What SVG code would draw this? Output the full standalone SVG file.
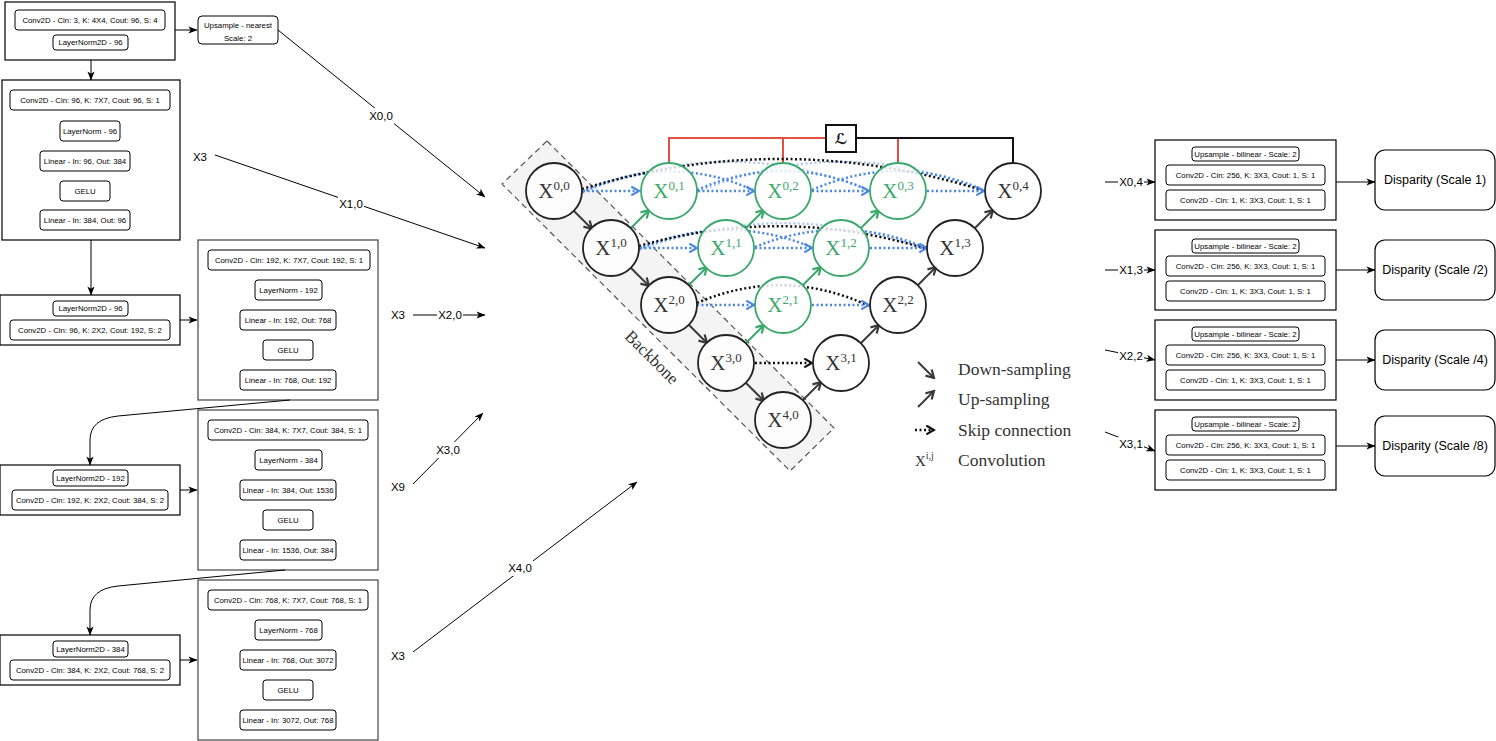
<svg xmlns="http://www.w3.org/2000/svg" width="1496" height="741" viewBox="0 0 1496 741">
<defs>
<style>
.blk{fill:#fff;stroke:#000;stroke-width:1.2}
.blk2{fill:#fff;stroke:#444;stroke-width:1.2}
.op{fill:#fff;stroke:#000;stroke-width:1}
.t{font-family:"Liberation Sans",Arial,Helvetica,sans-serif;font-size:7.8px;text-anchor:middle;dominant-baseline:central;fill:#000}
.lb{font-family:"Liberation Sans",Arial,Helvetica,sans-serif;font-size:11.5px;text-anchor:middle;dominant-baseline:central;fill:#000}
.disp{font-size:12.5px}
.ln{fill:none;stroke:#000;stroke-width:1}
.sf{font-family:"Liberation Serif","DejaVu Serif",serif}
.nl{font-size:21px;text-anchor:middle}
.sup{font-size:13px}
.nb{fill:#fff;fill-opacity:.82;stroke:#222;stroke-width:1.8}
.ng{fill:#fff;fill-opacity:.82;stroke:#3aa86a;stroke-width:1.8}
.xb{fill:#333}
.xg{fill:#3aa86a}
.dn{fill:none;stroke:#3a3a3a;stroke-width:2}
.up{fill:none;stroke:#3aa86a;stroke-width:2}
.skb{fill:none;stroke:#111;stroke-width:2.5;stroke-dasharray:2 2.5}
.skl{fill:none;stroke:#4a86e8;stroke-width:2.5;stroke-dasharray:2 2.5}
.skf{fill:none;stroke:#a9c5f3;stroke-width:2.2;stroke-dasharray:2 2.5}
.red{fill:none;stroke:#e2503f;stroke-width:2}
.leg{font-size:17.5px;fill:#333}
</style>
<marker id="a" viewBox="0 0 10 10" refX="9.5" refY="5" markerWidth="9" markerHeight="9" markerUnits="userSpaceOnUse" orient="auto"><path d="M0,1 L10,5 L0,9 L2.5,5 z" fill="#000"/></marker>
<marker id="cd" viewBox="0 0 10 10" refX="8.5" refY="5" markerWidth="11" markerHeight="11" markerUnits="userSpaceOnUse" orient="auto"><path d="M1.5,1 L8.5,5 L1.5,9" fill="none" stroke="#3a3a3a" stroke-width="2"/></marker>
<marker id="cg" viewBox="0 0 10 10" refX="8.5" refY="5" markerWidth="11" markerHeight="11" markerUnits="userSpaceOnUse" orient="auto"><path d="M1.5,1 L8.5,5 L1.5,9" fill="none" stroke="#3aa86a" stroke-width="2"/></marker>
<marker id="cb" viewBox="0 0 10 10" refX="8.5" refY="5" markerWidth="11" markerHeight="11" markerUnits="userSpaceOnUse" orient="auto"><path d="M1.5,1 L8.5,5 L1.5,9" fill="none" stroke="#4a86e8" stroke-width="2"/></marker>
<marker id="ck" viewBox="0 0 10 10" refX="8.5" refY="5" markerWidth="11" markerHeight="11" markerUnits="userSpaceOnUse" orient="auto"><path d="M1.5,1 L8.5,5 L1.5,9" fill="none" stroke="#111" stroke-width="2"/></marker>
</defs>
<rect width="1496" height="741" fill="#fff"/>

<!-- ConvNeXt-style encoder blocks -->
<g id="stem">
<rect class="blk" x="5" y="2" width="170" height="58"/>
<rect class="op" x="15" y="10" width="150" height="20" rx="3"/><text class="t" x="90" y="20">Conv2D - Cin: 3, K: 4X4, Cout: 96, S: 4</text>
<rect class="op" x="53" y="35" width="75" height="15" rx="3"/><text class="t" x="90.5" y="42.5">LayerNorm2D - 96</text>
</g>
<g id="upsample">
<rect class="op" x="198" y="16" width="80" height="28" rx="4"/>
<text class="t" x="238" y="25">Upsample - nearest</text>
<text class="t" x="238" y="38">Scale: 2</text>
</g>
<g id="stage1">
<rect class="blk" x="2" y="80" width="178" height="160"/>
<rect class="op" x="10" y="90" width="160" height="20" rx="3"/><text class="t" x="90" y="100">Conv2D - Cin: 96, K: 7X7, Cout: 96, S: 1</text>
<rect class="op" x="60" y="121" width="60" height="20" rx="3"/><text class="t" x="90" y="131">LayerNorm - 96</text>
<rect class="op" x="40" y="151" width="90" height="20" rx="3"/><text class="t" x="85" y="161">Linear - In: 96, Out: 384</text>
<rect class="op" x="60" y="181" width="50" height="20" rx="3"/><text class="t" x="85" y="191">GELU</text>
<rect class="op" x="40" y="210" width="90" height="20" rx="3"/><text class="t" x="85" y="220">Linear - In: 384, Out: 96</text>
</g>
<g id="down1">
<rect class="blk" x="0" y="295" width="180" height="50"/>
<rect class="op" x="53" y="301" width="75" height="15" rx="3"/><text class="t" x="90.5" y="308.5">LayerNorm2D - 96</text>
<rect class="op" x="10" y="320" width="160" height="20" rx="3"/><text class="t" x="90" y="330">Conv2D - Cin: 96, K: 2X2, Cout: 192, S: 2</text>
</g>
<g id="stage2">
<rect class="blk2" x="198" y="240" width="180" height="160"/>
<rect class="op" x="208" y="250" width="162" height="20" rx="3"/><text class="t" x="289" y="260">Conv2D - Cin: 192, K: 7X7, Cout: 192, S: 1</text>
<rect class="op" x="255" y="280" width="67" height="20" rx="3"/><text class="t" x="288.5" y="290">LayerNorm - 192</text>
<rect class="op" x="240" y="310" width="96" height="20" rx="3"/><text class="t" x="288" y="320">Linear - In: 192, Out: 768</text>
<rect class="op" x="263" y="340" width="50" height="20" rx="3"/><text class="t" x="288" y="350">GELU</text>
<rect class="op" x="240" y="370" width="96" height="20" rx="3"/><text class="t" x="288" y="380">Linear - In: 768, Out: 192</text>
</g>
<g id="down2">
<rect class="blk" x="0" y="465" width="180" height="50"/>
<rect class="op" x="53" y="470" width="75" height="16" rx="3"/><text class="t" x="90.5" y="478">LayerNorm2D - 192</text>
<rect class="op" x="12" y="490" width="156" height="20" rx="3"/><text class="t" x="90" y="500">Conv2D - Cin: 192, K: 2X2, Cout: 384, S: 2</text>
</g>
<g id="stage3">
<rect class="blk2" x="198" y="410" width="180" height="160"/>
<rect class="op" x="208" y="420" width="160" height="20" rx="3"/><text class="t" x="288" y="430">Conv2D - Cin: 384, K: 7X7, Cout: 384, S: 1</text>
<rect class="op" x="255" y="450" width="67" height="20" rx="3"/><text class="t" x="288.5" y="460">LayerNorm - 384</text>
<rect class="op" x="240" y="480" width="96" height="20" rx="3"/><text class="t" x="288" y="490">Linear - In: 384, Out: 1536</text>
<rect class="op" x="263" y="510" width="50" height="20" rx="3"/><text class="t" x="288" y="520">GELU</text>
<rect class="op" x="240" y="540" width="96" height="20" rx="3"/><text class="t" x="288" y="550">Linear - In: 1536, Out: 384</text>
</g>
<g id="down3">
<rect class="blk" x="0" y="635" width="180" height="50"/>
<rect class="op" x="53" y="641" width="75" height="16" rx="3"/><text class="t" x="90.5" y="649">LayerNorm2D - 384</text>
<rect class="op" x="10" y="660" width="160" height="20" rx="3"/><text class="t" x="90" y="670">Conv2D - Cin: 384, K: 2X2, Cout: 768, S: 2</text>
</g>
<g id="stage4">
<rect class="blk2" x="198" y="580" width="180" height="160"/>
<rect class="op" x="208" y="590" width="160" height="20" rx="3"/><text class="t" x="288" y="600">Conv2D - Cin: 768, K: 7X7, Cout: 768, S: 1</text>
<rect class="op" x="255" y="620" width="67" height="20" rx="3"/><text class="t" x="288.5" y="630">LayerNorm - 768</text>
<rect class="op" x="240" y="650" width="96" height="20" rx="3"/><text class="t" x="288" y="660">Linear - In: 768, Out: 3072</text>
<rect class="op" x="263" y="680" width="50" height="20" rx="3"/><text class="t" x="288" y="690">GELU</text>
<rect class="op" x="240" y="710" width="96" height="20" rx="3"/><text class="t" x="288" y="720">Linear - In: 3072, Out: 768</text>
</g>

<!-- encoder wiring and feature taps -->
<g id="connectors">
<path class="ln" d="M175 30 H197" marker-end="url(#a)"/>
<path class="ln" d="M91 60 V80" marker-end="url(#a)"/>
<path class="ln" d="M91 240 V295" marker-end="url(#a)"/>
<path class="ln" d="M180 320 H197" marker-end="url(#a)"/>
<path class="ln" d="M290 400 L118 416 Q90 419 90 440 V465" marker-end="url(#a)"/>
<path class="ln" d="M180 490 H197" marker-end="url(#a)"/>
<path class="ln" d="M285 570 L118 586 Q90 589 90 610 V635" marker-end="url(#a)"/>
<path class="ln" d="M180 660 H197" marker-end="url(#a)"/>

<path class="ln" d="M278 30 L485 197" marker-end="url(#a)"/>
<rect x="368" y="108" width="26" height="16" fill="#fff"/><text class="lb" x="381" y="116">X0,0</text>
<text class="lb" x="200" y="157">X3</text>
<path class="ln" d="M215 155 L485 248" marker-end="url(#a)"/>
<rect x="338" y="196" width="26" height="15" fill="#fff"/><text class="lb" x="351" y="204">X1,0</text>
<text class="lb" x="398" y="315">X3</text>
<path class="ln" d="M413 315 H485" marker-end="url(#a)"/>
<rect x="437" y="308" width="26" height="15" fill="#fff"/><text class="lb" x="450" y="315">X2,0</text>
<text class="lb" x="398" y="487">X9</text>
<path class="ln" d="M413 484 L483 413" marker-end="url(#a)"/>
<rect x="435" y="442" width="26" height="16" fill="#fff"/><text class="lb" x="448" y="450">X3,0</text>
<text class="lb" x="398" y="656">X3</text>
<path class="ln" d="M413 652 L637 482" marker-end="url(#a)"/>
<rect x="507" y="560" width="26" height="16" fill="#fff"/><text class="lb" x="520" y="568">X4,0</text>

<path class="ln" d="M1105 182 H1155" marker-end="url(#a)"/>
<rect x="1118" y="175" width="26" height="15" fill="#fff"/><text class="lb" x="1131" y="182">X0,4</text>
<path class="ln" d="M1105 270 H1155" marker-end="url(#a)"/>
<rect x="1118" y="263" width="26" height="15" fill="#fff"/><text class="lb" x="1131" y="270">X1,3</text>
<path class="ln" d="M1105 350 L1155 360" marker-end="url(#a)"/>
<rect x="1118" y="349" width="26" height="15" fill="#fff"/><text class="lb" x="1131" y="356">X2,2</text>
<path class="ln" d="M1105 432 L1155 451" marker-end="url(#a)"/>
<rect x="1118" y="437" width="26" height="15" fill="#fff"/><text class="lb" x="1131" y="444">X3,1</text>

<path class="ln" d="M1336 182 H1375" marker-end="url(#a)"/>
<path class="ln" d="M1336 270 H1375" marker-end="url(#a)"/>
<path class="ln" d="M1336 360 H1375" marker-end="url(#a)"/>
<path class="ln" d="M1336 446 H1375" marker-end="url(#a)"/>
</g>

<!-- disparity heads -->
<g id="head1">
<rect class="blk" x="1155" y="140" width="181" height="80"/>
<rect class="op" x="1192" y="147" width="107" height="14" rx="3"/><text class="t" x="1245.5" y="154">Upsample - bilinear - Scale: 2</text>
<rect class="op" x="1166" y="165" width="159" height="20" rx="3"/><text class="t" x="1245.5" y="175">Conv2D - Cin: 256, K: 3X3, Cout: 1, S: 1</text>
<rect class="op" x="1166" y="190" width="159" height="20" rx="3"/><text class="t" x="1245.5" y="200">Conv2D - Cin: 1, K: 3X3, Cout: 1, S: 1</text>
</g>
<g id="head2">
<rect class="blk" x="1155" y="230" width="181" height="80"/>
<rect class="op" x="1192" y="239" width="107" height="14" rx="3"/><text class="t" x="1245.5" y="246">Upsample - bilinear - Scale: 2</text>
<rect class="op" x="1166" y="256" width="159" height="20" rx="3"/><text class="t" x="1245.5" y="266">Conv2D - Cin: 256, K: 3X3, Cout: 1, S: 1</text>
<rect class="op" x="1166" y="281" width="159" height="20" rx="3"/><text class="t" x="1245.5" y="291">Conv2D - Cin: 1, K: 3X3, Cout: 1, S: 1</text>
</g>
<g id="head3">
<rect class="blk" x="1155" y="320" width="181" height="80"/>
<rect class="op" x="1192" y="327" width="107" height="14" rx="3"/><text class="t" x="1245.5" y="334">Upsample - bilinear - Scale: 2</text>
<rect class="op" x="1166" y="345" width="159" height="20" rx="3"/><text class="t" x="1245.5" y="355">Conv2D - Cin: 256, K: 3X3, Cout: 1, S: 1</text>
<rect class="op" x="1166" y="370" width="159" height="20" rx="3"/><text class="t" x="1245.5" y="380">Conv2D - Cin: 1, K: 3X3, Cout: 1, S: 1</text>
</g>
<g id="head4">
<rect class="blk" x="1155" y="410" width="181" height="80"/>
<rect class="op" x="1192" y="417" width="107" height="14" rx="3"/><text class="t" x="1245.5" y="424">Upsample - bilinear - Scale: 2</text>
<rect class="op" x="1166" y="435" width="159" height="20" rx="3"/><text class="t" x="1245.5" y="445">Conv2D - Cin: 256, K: 3X3, Cout: 1, S: 1</text>
<rect class="op" x="1166" y="460" width="159" height="20" rx="3"/><text class="t" x="1245.5" y="470">Conv2D - Cin: 1, K: 3X3, Cout: 1, S: 1</text>
</g>
<g id="disp1"><rect class="blk" x="1375" y="150" width="120" height="60" rx="10"/><text class="lb disp" x="1435" y="180">Disparity (Scale 1)</text></g>
<g id="disp2"><rect class="blk" x="1375" y="240" width="120" height="60" rx="10"/><text class="lb disp" x="1435" y="270">Disparity (Scale /2)</text></g>
<g id="disp3"><rect class="blk" x="1375" y="330" width="120" height="60" rx="10"/><text class="lb disp" x="1435" y="360">Disparity (Scale /4)</text></g>
<g id="disp4"><rect class="blk" x="1375" y="416" width="120" height="60" rx="10"/><text class="lb disp" x="1435" y="446">Disparity (Scale /8)</text></g>

<!-- nested U-Net decoder -->
<g id="backbone">
<polygon points="547,141 834,428 790,471 502,184" fill="#f4f4f4" stroke="#555" stroke-width="1.2" stroke-dasharray="6 4"/>
<text class="sf" x="652" y="363" font-size="17" fill="#333" text-anchor="middle" transform="rotate(45 652 357)">Backbone</text>
</g>

<g id="unet-links">
<!-- deep supervision -->
<path class="red" d="M669 163 V138 H826"/>
<path class="red" d="M783 163 V138"/>
<path class="red" d="M898 163 V138"/>
<path d="M856 138 H1013 V163" fill="none" stroke="#111" stroke-width="2"/>
<!-- skip connections -->
<path class="skf" d="M582 193 Q726 132 868 190"/>
<path class="skf" d="M697 192 Q841 132 983 191"/>
<path class="skf" d="M639 250 Q783 197 926 249"/>
<path class="skl" d="M582 192 Q669 152 753 190"/>
<path class="skl" d="M697 190 Q783 152 868 190"/>
<path class="skl" d="M812 190 Q898 152 983 190"/>
<path class="skl" d="M639 249 Q726 212 811 247"/>
<path class="skl" d="M755 247 Q841 212 926 248"/>
<path class="skb" d="M582 189 Q783 128 985 191"/>
<path class="skb" d="M639 246 Q783 205 927 249"/>
<path class="skb" d="M697 303 Q783 266 869 306"/>
<path class="skl" d="M583 191 H639" marker-end="url(#cb)"/>
<path class="skl" d="M698 191 H754" marker-end="url(#cb)"/>
<path class="skl" d="M812 191 H869" marker-end="url(#cb)"/>
<path class="skl" d="M927 191 H984" marker-end="url(#cb)"/>
<path class="skl" d="M640 248 H697" marker-end="url(#cb)"/>
<path class="skl" d="M755 248 H812" marker-end="url(#cb)"/>
<path class="skl" d="M870 248 H927" marker-end="url(#cb)"/>
<path class="skl" d="M697 305 H754" marker-end="url(#cb)"/>
<path class="skl" d="M812 305 H869" marker-end="url(#cb)"/>
<path class="skb" d="M755 363 H812" marker-end="url(#ck)"/>
<!-- down-sampling -->
<path class="dn" d="M574 211 L592 229" marker-end="url(#cd)"/>
<path class="dn" d="M631 268 L649 286" marker-end="url(#cd)"/>
<path class="dn" d="M689 325 L707 343" marker-end="url(#cd)"/>
<path class="dn" d="M746 383 L764 401" marker-end="url(#cd)"/>
<!-- up-sampling -->
<path class="up" d="M631 228 L649 210" marker-end="url(#cg)"/>
<path class="up" d="M689 285 L707 267" marker-end="url(#cg)"/>
<path class="up" d="M746 228 L764 210" marker-end="url(#cg)"/>
<path class="up" d="M746 343 L764 325" marker-end="url(#cg)"/>
<path class="up" d="M803 285 L821 267" marker-end="url(#cg)"/>
<path class="up" d="M861 228 L879 210" marker-end="url(#cg)"/>
<path class="dn" d="M803 400 L821 382" marker-end="url(#cd)"/>
<path class="dn" d="M861 343 L879 325" marker-end="url(#cd)"/>
<path class="dn" d="M918 285 L936 267" marker-end="url(#cd)"/>
<path class="dn" d="M975 228 L993 210" marker-end="url(#cd)"/>
</g>

<g id="loss">
<rect x="826" y="125" width="30" height="27" fill="#fff" stroke="#111" stroke-width="2"/>
<text x="841" y="144" font-family="DejaVu Serif, DejaVu Sans, serif" font-size="15" font-style="italic" font-weight="bold" text-anchor="middle" fill="#111">ℒ</text>
</g>

<g id="x00"><circle class="nb" cx="554" cy="191" r="28"/><text class="sf nl xb" x="554" y="198">X<tspan class="sup" dy="-8">0,0</tspan></text></g>
<g id="x10"><circle class="nb" cx="611" cy="248" r="28"/><text class="sf nl xb" x="611" y="255">X<tspan class="sup" dy="-8">1,0</tspan></text></g>
<g id="x20"><circle class="nb" cx="669" cy="305" r="28"/><text class="sf nl xb" x="669" y="312">X<tspan class="sup" dy="-8">2,0</tspan></text></g>
<g id="x30"><circle class="nb" cx="726" cy="363" r="28"/><text class="sf nl xb" x="726" y="370">X<tspan class="sup" dy="-8">3,0</tspan></text></g>
<g id="x40"><circle class="nb" cx="783" cy="420" r="28"/><text class="sf nl xb" x="783" y="427">X<tspan class="sup" dy="-8">4,0</tspan></text></g>
<g id="x01"><circle class="ng" cx="669" cy="191" r="28"/><text class="sf nl xg" x="669" y="198">X<tspan class="sup" dy="-8">0,1</tspan></text></g>
<g id="x11"><circle class="ng" cx="726" cy="248" r="28"/><text class="sf nl xg" x="726" y="255">X<tspan class="sup" dy="-8">1,1</tspan></text></g>
<g id="x21"><circle class="ng" cx="783" cy="305" r="28"/><text class="sf nl xg" x="783" y="312">X<tspan class="sup" dy="-8">2,1</tspan></text></g>
<g id="x31"><circle class="nb" cx="841" cy="363" r="28"/><text class="sf nl xb" x="841" y="370">X<tspan class="sup" dy="-8">3,1</tspan></text></g>
<g id="x02"><circle class="ng" cx="783" cy="191" r="28"/><text class="sf nl xg" x="783" y="198">X<tspan class="sup" dy="-8">0,2</tspan></text></g>
<g id="x12"><circle class="ng" cx="841" cy="248" r="28"/><text class="sf nl xg" x="841" y="255">X<tspan class="sup" dy="-8">1,2</tspan></text></g>
<g id="x22"><circle class="nb" cx="898" cy="305" r="28"/><text class="sf nl xb" x="898" y="312">X<tspan class="sup" dy="-8">2,2</tspan></text></g>
<g id="x03"><circle class="ng" cx="898" cy="191" r="28"/><text class="sf nl xg" x="898" y="198">X<tspan class="sup" dy="-8">0,3</tspan></text></g>
<g id="x13"><circle class="nb" cx="955" cy="248" r="28"/><text class="sf nl xb" x="955" y="255">X<tspan class="sup" dy="-8">1,3</tspan></text></g>
<g id="x04"><circle class="nb" cx="1013" cy="191" r="28"/><text class="sf nl xb" x="1013" y="198">X<tspan class="sup" dy="-8">0,4</tspan></text></g>

<g id="legend">
<path class="dn" d="M918 362 L934 378" marker-end="url(#cd)"/>
<path class="dn" d="M918 407 L934 391" marker-end="url(#cd)"/>
<path class="skb" d="M915 430 H934" marker-end="url(#ck)"/>
<text class="sf" x="915" y="466" font-size="15" fill="#333">X<tspan font-size="10" dy="-7">i,j</tspan></text>
<text class="sf leg" x="958" y="375">Down-sampling</text>
<text class="sf leg" x="958" y="405">Up-sampling</text>
<text class="sf leg" x="958" y="436">Skip connection</text>
<text class="sf leg" x="958" y="466">Convolution</text>
</g>
</svg>
